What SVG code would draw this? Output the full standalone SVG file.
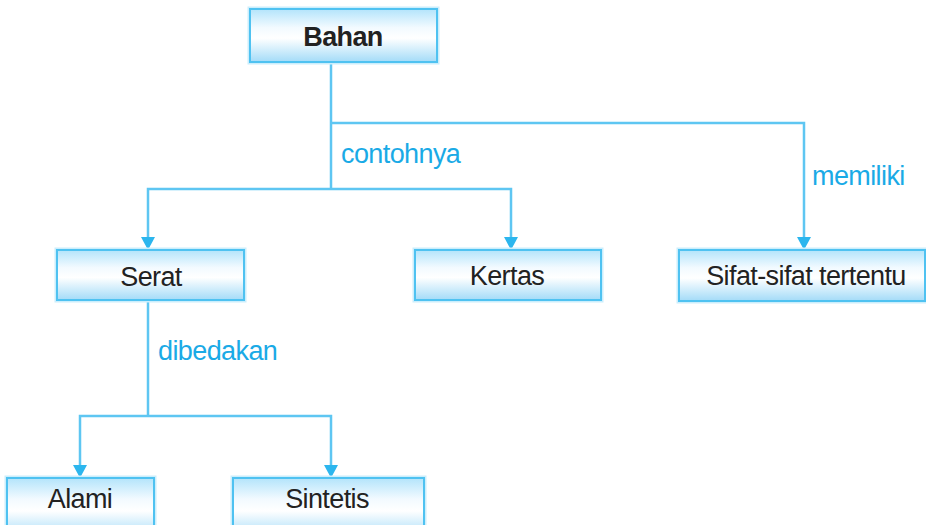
<svg xmlns="http://www.w3.org/2000/svg" width="926" height="525" viewBox="0 0 926 525">
<defs>
<linearGradient id="g" x1="0" y1="0" x2="0" y2="1">
<stop offset="0" stop-color="#b3e4fb"/>
<stop offset="0.35" stop-color="#f2faff"/>
<stop offset="0.55" stop-color="#ffffff"/>
<stop offset="1" stop-color="#a3dbf8"/>
</linearGradient>
<marker id="arr" markerUnits="userSpaceOnUse" markerWidth="14" markerHeight="14" viewBox="0 0 14 14" refX="7" refY="13" orient="auto-start-reverse">
<path d="M1,0 L13,0 L7,13 Z" fill="#2cb6ee" transform="rotate(-90 7 7) rotate(90 7 7)"/>
</marker>
<style>
.box{fill:url(#g);stroke:#4fc2f1;stroke-width:2}
.glow{fill:none;stroke:#cbeefc;stroke-width:5}
.t{font-family:"Liberation Sans",Arial,sans-serif;font-size:27px;letter-spacing:-0.6px;fill:#222;text-anchor:middle}
.b{font-weight:bold}
.lbl{font-family:"Liberation Sans",Arial,sans-serif;font-size:27px;letter-spacing:-0.6px;fill:#1aaae6}
.ln{fill:none;stroke:#5ec6f2;stroke-width:2.5}
.ah{fill:#2cb6ee}
</style>
</defs>
<g id="connectors">
<path class="ln" d="M331,62 V189"/>
<path class="ln" d="M331,123 H804 V238"/>
<path class="ln" d="M148,238 V189 H511 V238"/>
<path class="ln" d="M148,300 V416"/>
<path class="ln" d="M80,466 V416 H331 V466"/>
<path class="ah" d="M141,237 H155 L148,250 Z"/>
<path class="ah" d="M504,237 H518 L511,250 Z"/>
<path class="ah" d="M797,237 H811 L804,250 Z"/>
<path class="ah" d="M73,465 H87 L80,478 Z"/>
<path class="ah" d="M324,465 H338 L331,478 Z"/>
<text class="lbl" x="341" y="163">contohnya</text>
<text class="lbl" x="812" y="185">memiliki</text>
<text class="lbl" x="158" y="360">dibedakan</text>
</g>
<g id="bahan">
<rect class="glow" x="250" y="9" width="187" height="53"/>
<rect class="box" x="250" y="9" width="187" height="53"/>
<text class="t b" x="343" y="46">Bahan</text>
</g>
<g id="serat">
<rect class="glow" x="57" y="250" width="187" height="50"/>
<rect class="box" x="57" y="250" width="187" height="50"/>
<text class="t" x="151" y="286">Serat</text>
</g>
<g id="kertas">
<rect class="glow" x="415" y="250" width="186" height="50"/>
<rect class="box" x="415" y="250" width="186" height="50"/>
<text class="t" x="507" y="285">Kertas</text>
</g>
<g id="sifat">
<rect class="glow" x="679" y="250" width="246" height="51"/>
<rect class="box" x="679" y="250" width="246" height="51"/>
<text class="t" x="806" y="285">Sifat-sifat tertentu</text>
</g>
<g id="alami">
<rect class="glow" x="7" y="478" width="147" height="60"/>
<rect class="box" x="7" y="478" width="147" height="60"/>
<text class="t" x="80" y="508">Alami</text>
</g>
<g id="sintetis">
<rect class="glow" x="233" y="478" width="191" height="60"/>
<rect class="box" x="233" y="478" width="191" height="60"/>
<text class="t" x="327" y="508">Sintetis</text>
</g>
</svg>
